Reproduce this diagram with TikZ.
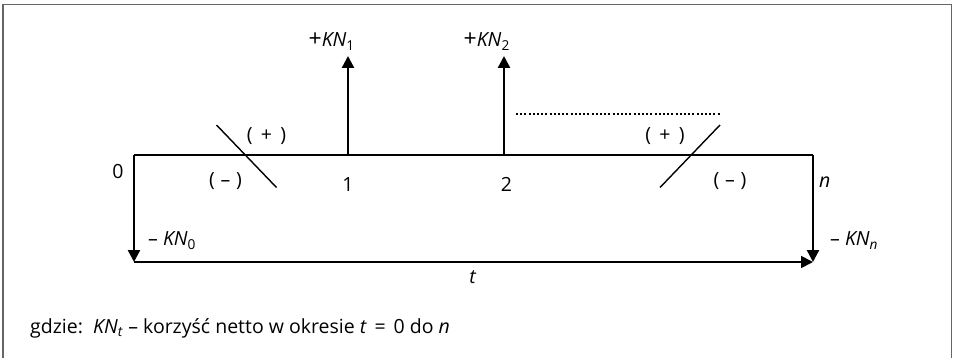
\documentclass[tikz,border=0pt]{standalone}
\usepackage{fontspec}
\setmainfont{Open Sans}
\usetikzlibrary{arrows.meta}
\tikzset{
  lbl/.style={inner sep=0pt, font=\fontsize{19.5}{22}\selectfont},
  axis/.style={line width=1.4pt},
  flow/.style={line width=2.4pt, -{Triangle[length=12pt,width=12pt]}},
  slash/.style={line width=1.4pt},
}
\newcommand{\KNsub}[1]{\textit{KN}\textsubscript{#1}}
\newcommand{\plusbig}{{\fontsize{23}{22}\selectfont +}}
\begin{document}
\begin{tikzpicture}[x=1pt,y=-1pt]
\useasboundingbox (0,0) rectangle (953,358);
\draw[gray!80!black, line width=1.2pt] (3,4.5) rectangle (951.5,368);
% coordinates
\coordinate (A) at (134,155);
\coordinate (B) at (813,155);
\coordinate (C) at (134,262);
\coordinate (D) at (813,262);
\coordinate (U1) at (348,155);
\coordinate (U1t) at (348,56);
\coordinate (U2) at (504,155);
\coordinate (U2t) at (504,56);
\coordinate (S1a) at (216.5,125);
\coordinate (S1b) at (276.5,187.5);
\coordinate (S2a) at (720,125);
\coordinate (S2b) at (660,187.5);
\coordinate (Da) at (516,114);
\coordinate (Db) at (721,114);
% lines
\draw[axis] (A) -- (B);
\draw[line width=1.8pt, -{Triangle[length=12pt,width=12pt]}] (C) -- (D);
\draw[flow] (A) -- (C);
\draw[flow] (B) -- (D);
\draw[flow] (U1) -- (U1t);
\draw[flow] (U2) -- (U2t);
\draw[slash] (S1a) -- (S1b);
\draw[slash] (S2a) -- (S2b);
\draw[line width=2pt, dash pattern=on 2pt off 2.2pt] (Da) -- (Db);
% labels
\node[lbl, anchor=base east] (kn1) at (355,47) {\plusbig\KNsub{1}};
\node[lbl, anchor=base east] (kn2) at (510,47) {\plusbig\KNsub{2}};
\node[lbl] (p1) at (266.5,136.5) {(\hspace{0.42em}+\hspace{0.42em})};
\node[lbl] (m1) at (225.5,181.5) {(\hspace{0.3em}–\hspace{0.3em})};
\node[lbl] (p2) at (665,136) {(\hspace{0.42em}+\hspace{0.42em})};
\node[lbl] (m2) at (730,181.5) {(\hspace{0.3em}–\hspace{0.3em})};
\node[lbl] (z0) at (118,171.5) {0};
\node[lbl] (n1) at (348,185) {1};
\node[lbl] (n2) at (506.5,184) {2};
\node[lbl, anchor=west] (nn) at (819,182) {\textit{n}};
\node[lbl, anchor=base west] (kn0) at (148,246) {– \KNsub{0}};
\node[lbl, anchor=base west] (knn) at (830,246) {– \KNsub{\textit{n}}};
\node[lbl] (tt) at (473,277.5) {\textit{t}};
\node[lbl, anchor=base west] (note) at (30,333) {gdzie:\ \ \KNsub{\textit{t}} – korzyść netto w okresie \textit{t}\hspace{0.4em}=\hspace{0.4em}0 do \textit{n}};
\end{tikzpicture}
\end{document}
